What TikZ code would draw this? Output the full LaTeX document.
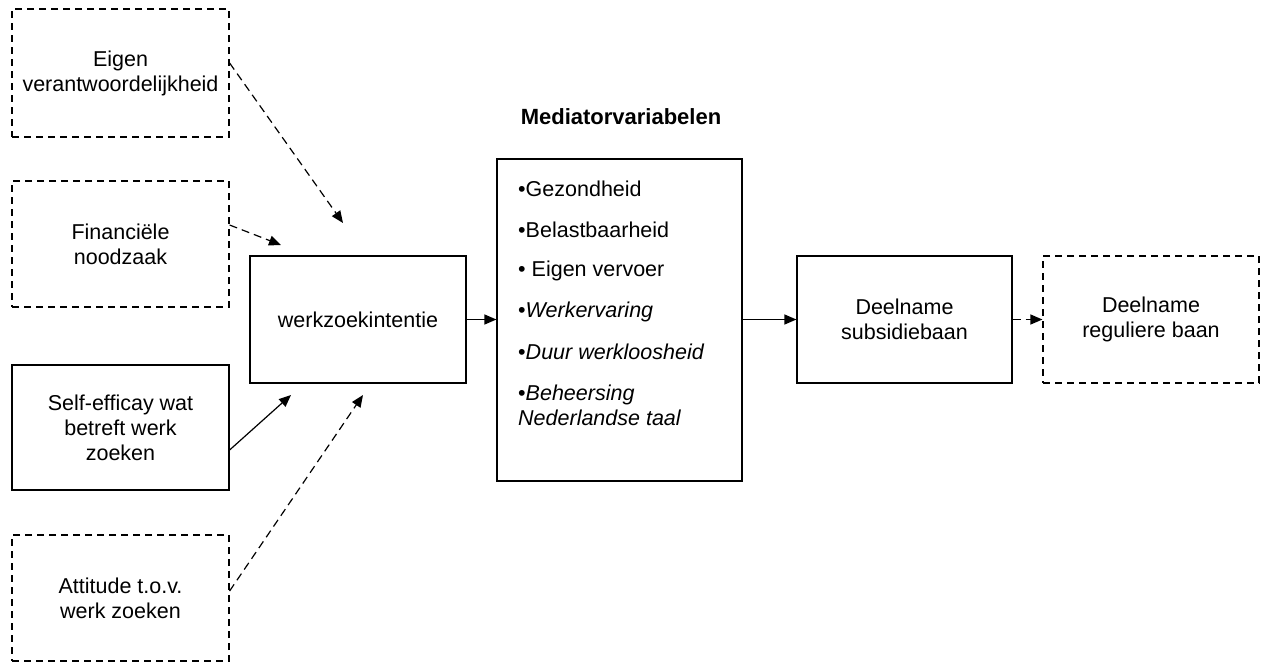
\documentclass[tikz,border=0pt]{standalone}
\usepackage{fontspec}
\setmainfont{Liberation Sans}
\usetikzlibrary{arrows.meta}
\begin{document}
\begin{tikzpicture}[x=1pt,y=-1pt,
  every node/.style={font=\fontsize{21.5}{25}\selectfont, align=center},
  box/.style={draw, line width=1.2pt, minimum width=#1, inner sep=0pt},
  dbox/.style={box=#1, dash pattern=on 7pt off 5pt},
  arr/.style={line width=1.2pt, -{Triangle[length=12pt,width=10pt]}},
  darr/.style={arr, dash pattern=on 8pt off 5pt},
  item/.style={anchor=west, align=left, inner sep=0pt}]
\useasboundingbox (0,0) rectangle (1263,664);
% left boxes
\node[dbox=217pt, minimum height=128pt] (eig) at (120.5,73) {Eigen\\verantwoordelijkheid};
\node[dbox=217pt, minimum height=126pt] (fin) at (120.5,244) {Financiële\\noodzaak};
\node[box=217pt, minimum height=125pt] (self) at (120.5,427.5) {Self-efficay wat\\betreft werk\\zoeken};
\node[dbox=217pt, minimum height=126pt] (att) at (120.5,598) {Attitude t.o.v.\\werk zoeken};
% central
\node[box=216pt, minimum height=127pt] (wzi) at (358,319.5) {werkzoekintentie};
\node[font=\fontsize{22}{25}\selectfont\bfseries] (title) at (621,117) {Mediatorvariabelen};
\node[box=245pt, minimum height=322pt] (med) at (619.5,320) {};
\node[item] (m1) at (518,189) {•Gezondheid};
\node[item] (m2) at (518,230) {•Belastbaarheid};
\node[item] (m3) at (518,271) {• Eigen vervoer};
\node[item] (m4) at (518,312) {•\textit{Werkervaring}};
\node[item] (m5) at (518,352) {•\textit{Duur werkloosheid}};
\node[item] (m6) at (518,405) {•\textit{Beheersing}\\\textit{Nederlandse taal}};
\node[box=215pt, minimum height=127pt] (sub) at (904.5,319.5) {Deelname\\subsidiebaan};
\node[dbox=216pt, minimum height=127pt] (reg) at (1151,319.5) {Deelname\\reguliere baan};
% free ends
\coordinate (e1) at (343,223);
\coordinate (e2) at (281,245);
\coordinate (e3) at (291,395);
\coordinate (e4) at (363,395);
\draw[darr] (eig.east |- 0,63) -- (e1);
\draw[darr] (fin.east |- 0,225) -- (e2);
\draw[arr] (self.east |- 0,450) -- (e3);
\draw[darr] (att.east |- 0,591) -- (e4);
\draw[arr] (wzi.east) -- (med.west |- wzi.east);
\draw[arr] (med.east |- sub.west) -- (sub.west);
\draw[darr] (sub.east) -- (reg.west);
\end{tikzpicture}
\end{document}
